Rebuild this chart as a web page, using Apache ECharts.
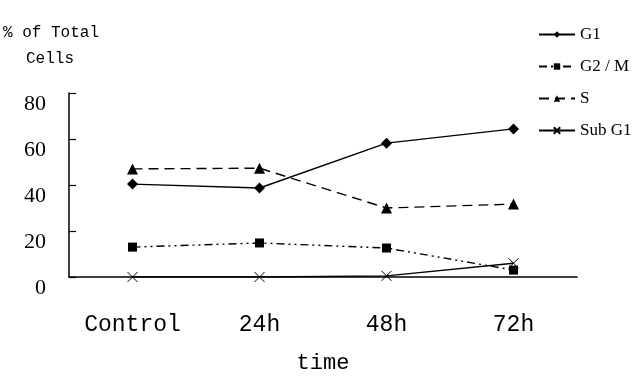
<!DOCTYPE html>
<html>
<head>
  <meta charset="utf-8" />
  <title>Cell cycle</title>
  <script src="https://cdn.jsdelivr.net/npm/echarts@6/dist/echarts.min.js"></script>
</head>
<body style="margin:0">
<div id="main" style="width:642px;height:385px;"></div>
<script type="text/javascript">
  // data
  var categories = ['Control', '24h', '48h', '72h'];
  var g1 = [40.4, 38.7, 58.2, 64.4];
  var g2m = [13.0, 14.8, 12.6, 3.0];
  var sPhase = [47.0, 47.3, 30.0, 31.7];
  var subG1 = [0, 0, 0.5, 6.0];
  var yTicks = [0, 20, 40, 60, 80];

  var crossPath = 'path://M0,0L10,10M10,0L0,10';

  var chart = echarts.init(document.getElementById('main'));
  var option = {
    animation: false,
    backgroundColor: '#fff',
    color: ['#000', '#000', '#000', '#000'],
    grid: { left: 69, right: 65, top: 93, bottom: 108 },
    graphic: [
      { type: 'text', left: 3, top: 25,
        style: { text: '% of Total', font: '16px "Liberation Mono"', fill: '#000' } },
      { type: 'text', left: 26, top: 51,
        style: { text: 'Cells', font: '16px "Liberation Mono"', fill: '#000' } }
    ],
    legend: {
      orient: 'vertical',
      left: 533,
      top: 21,
      itemWidth: 36,
      itemHeight: 8,
      itemGap: 15,
      textStyle: { fontFamily: 'Liberation Serif', fontSize: 17, color: '#000' },
      data: ['G1', 'G2 / M', 'S', 'Sub G1']
    },
    xAxis: {
      type: 'category',
      data: categories,
      boundaryGap: true,
      name: 'time',
      nameLocation: 'middle',
      nameGap: 75,
      nameTextStyle: { fontFamily: 'Liberation Mono', fontSize: 22, color: '#000' },
      axisLine: { lineStyle: { color: '#000', width: 1.5 } },
      axisTick: { inside: true, length: 9, lineStyle: { color: '#000', width: 1.2 } },
      axisLabel: { margin: 36, fontFamily: 'Liberation Mono', fontSize: 23, color: '#000' }
    },
    yAxis: {
      type: 'value',
      min: yTicks[0],
      max: yTicks[yTicks.length - 1],
      interval: 20,
      axisLine: { show: true, lineStyle: { color: '#000', width: 1.5 } },
      axisTick: { show: true, inside: true, length: 7, lineStyle: { color: '#000', width: 1.2 } },
      splitLine: { show: false },
      axisLabel: {
        margin: 23, verticalAlign: 'top',
        fontFamily: 'Liberation Serif', fontSize: 22, color: '#000'
      }
    },
    series: [
      {
        name: 'G1', type: 'line', data: g1,
        symbol: 'diamond', symbolSize: 11,
        lineStyle: { color: '#000', width: 1.4, type: 'solid' },
        itemStyle: { color: '#000' }
      },
      {
        name: 'G2 / M', type: 'line', data: g2m,
        symbol: 'rect', symbolSize: 9,
        lineStyle: { color: '#000', width: 1.4, type: [8, 4, 2, 4, 2, 4] },
        itemStyle: { color: '#000' }
      },
      {
        name: 'S', type: 'line', data: sPhase,
        symbol: 'triangle', symbolSize: 11,
        lineStyle: { color: '#000', width: 1.4, type: [10, 6] },
        itemStyle: { color: '#000' }
      },
      {
        name: 'Sub G1', type: 'line', data: subG1,
        symbol: crossPath, symbolSize: 10,
        lineStyle: { color: '#000', width: 1.4, type: 'solid' },
        itemStyle: { color: 'none', borderColor: '#000', borderWidth: 1 }
      }
    ]
  };
  chart.setOption(option);
</script>
</body>
</html>
